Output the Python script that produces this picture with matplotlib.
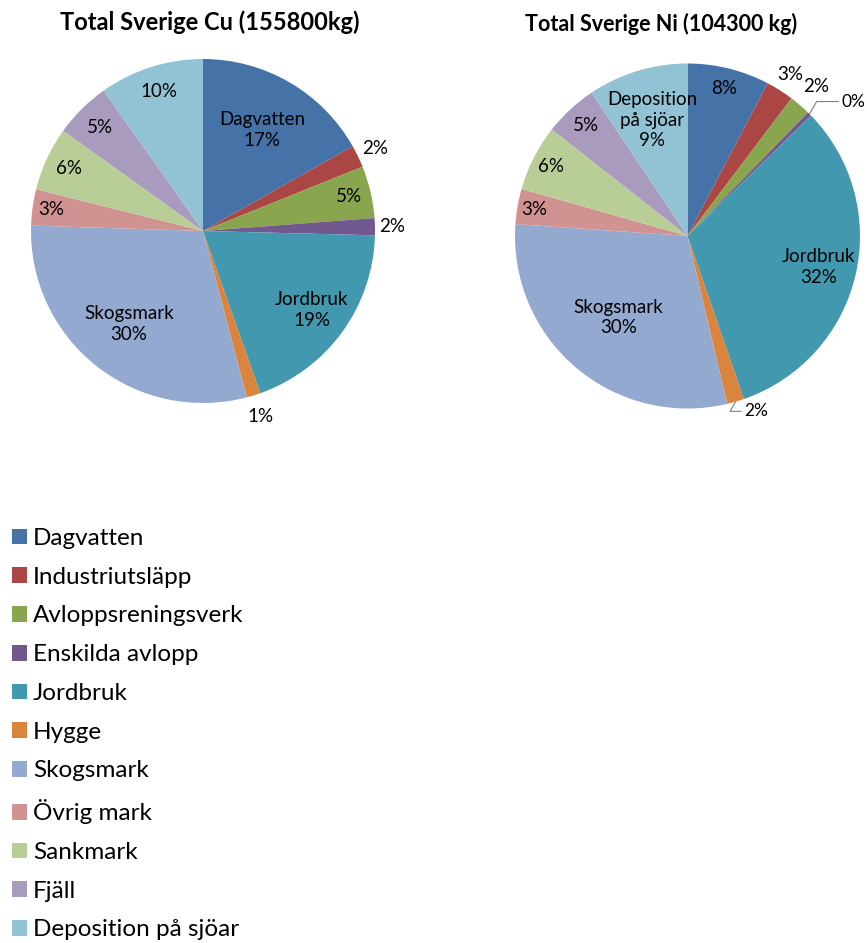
import numpy as np
import matplotlib
matplotlib.use("Agg")
import matplotlib.pyplot as plt
from matplotlib.patches import Patch

plt.rcParams['font.family'] = ['Lato', 'DejaVu Sans']

# kategorier
kategorier = ["Dagvatten", "Industriutsläpp", "Avloppsreningsverk", "Enskilda avlopp",
              "Jordbruk", "Hygge", "Skogsmark", "Övrig mark", "Sankmark", "Fjäll",
              "Deposition på sjöar"]
farger = ["#4572A7", "#AA4643", "#89A54E", "#71588F", "#4198AF", "#DB843D",
          "#93A9CF", "#D19392", "#B9CD96", "#A99BBD", "#92C3D4"]

# andel i procent
cu_andel = [16.8, 2.1, 4.9, 1.6, 19.2, 1.3, 29.6, 3.4, 6.0, 5.3, 9.8]
ni_andel = [7.7, 2.6, 2.0, 0.4, 32.0, 1.6, 29.8, 3.3, 6.2, 5.0, 9.4]

cu_titel = "Total Sverige Cu (155800kg)"
ni_titel = "Total Sverige Ni (104300 kg)"

# etikett: avstånd från centrum, visa namn
cu_r = [0.68, 1.11, 0.87, 1.10, 0.78, 1.13, 0.69, 0.89, 0.86, 0.85, 0.85]
ni_r = [0.88, 1.11, 1.14, 1.0, 0.78, 1.0, 0.62, 0.90, 0.89, 0.87, 0.70]
cu_namn = {0: "Dagvatten", 4: "Jordbruk", 6: "Skogsmark"}
ni_namn = {10: "Deposition\npå sjöar", 4: "Jordbruk", 6: "Skogsmark"}
ni_ledare = {3: (23, 9), 5: (6, -7)}  # etiketter med linje (offset i pt)

W, H = 867, 943
fig = plt.figure(figsize=(W / 100, H / 100), dpi=100)


def rita_paj(cx, cy, rad, andel, titel, rlist, namn, ledare, tx, ty, tfs):
    ax = fig.add_axes([(cx - rad) / W, (H - cy - rad) / H, 2 * rad / W, 2 * rad / H])
    wedges, _ = ax.pie(andel, colors=farger, startangle=90, counterclock=False,
                       wedgeprops=dict(linewidth=0))
    ax.set_xlim(-1, 1)
    ax.set_ylim(-1, 1)
    tot = sum(andel)
    for i, w in enumerate(wedges):
        mid = np.deg2rad((w.theta1 + w.theta2) / 2)
        pct = "%d%%" % round(andel[i] / tot * 100)
        txt = namn[i] + "\n" + pct if i in namn else pct
        if i in ledare:
            dx, dy = ledare[i]
            ax.annotate(txt, xy=(np.cos(mid), np.sin(mid)), xytext=(dx, dy),
                        textcoords="offset points", fontsize=12.5, ha="left", va="center",
                        annotation_clip=False,
                        arrowprops=dict(arrowstyle="-", color="#808080", lw=0.8,
                                        shrinkA=0, shrinkB=0,
                                        connectionstyle="angle,angleA=0,angleB=60,rad=0"))
        else:
            r = rlist[i]
            ax.text(r * np.cos(mid), r * np.sin(mid), txt, fontsize=13.5,
                    ha="center", va="center", linespacing=1.25, clip_on=False)
    fig.text(tx / W, 1 - ty / H, titel, fontsize=tfs, fontweight="bold",
             ha="center", va="center")


rita_paj(203, 231, 172, cu_andel, cu_titel, cu_r, cu_namn, {}, 210, 22, 17)
rita_paj(687.5, 236, 172.5, ni_andel, ni_titel, ni_r, ni_namn, ni_ledare, 661, 24, 15.5)

handles = [Patch(facecolor=c, edgecolor="none") for c in farger]
fig.legend(handles, kategorier, loc="upper left", bbox_to_anchor=(12 / W, 1 - 528 / H),
           frameon=False, fontsize=17.5, handlelength=0.62, handleheight=0.62,
           handletextpad=0.25, labelspacing=0.73, borderaxespad=0, borderpad=0)

fig.savefig("out.png", dpi=100)
